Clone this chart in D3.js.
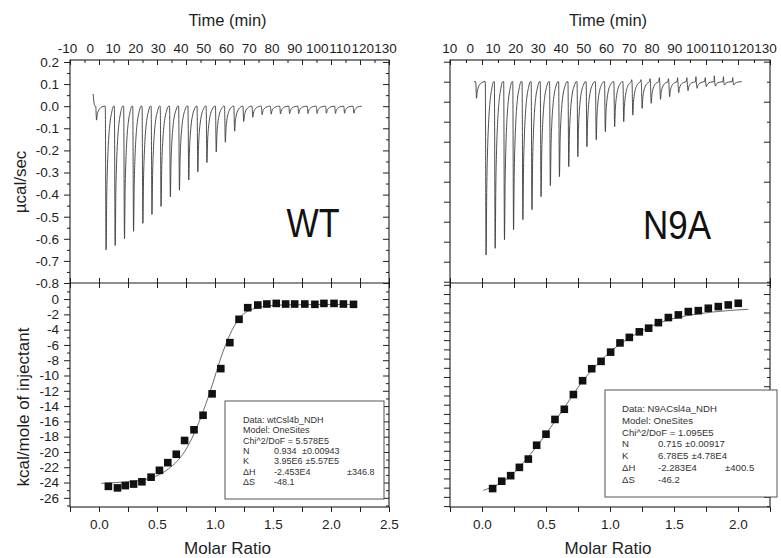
<!DOCTYPE html>
<html>
<head>
<meta charset="utf-8">
<script src="https://cdn.jsdelivr.net/npm/d3@7"></script>
<style>
  body { margin: 0; background: #fff; }
  svg { display: block; font-family: "Liberation Sans", Arial, sans-serif; }
</style>
</head>
<body>
<div id="chart"></div>
<script>
// Tick labels
const timeTicks = [-10, 0, 10, 20, 30, 40, 50, 60, 70, 80, 90, 100, 110, 120, 130]
const powerTicks = [0.2, 0.1, 0, -0.1, -0.2, -0.3, -0.4, -0.5, -0.6, -0.7, -0.8]
const heatTicks = [0, -2, -4, -6, -8, -10, -12, -14, -16, -18, -20, -22, -24, -26]
const ratioTicksWT = [0, 0.5, 1, 1.5, 2, 2.5]
const ratioTicksN9A = [0, 0.5, 1, 1.5, 2]

// Raw heat: time of each injection peak (min) and its depth (µcal/sec)
const injectionTimes = [3.0, 7.2, 11.2, 15.3, 19.3, 23.4, 27.4, 31.4, 35.5, 39.5, 43.6, 47.6, 51.6, 55.7, 59.7,
  63.8, 67.8, 71.8, 75.9, 79.9, 84.0, 88.0, 92.0, 96.1, 100.1, 104.2, 108.2, 112.2, 116.3]
const wtPeaks = [-0.063, -0.65, -0.63, -0.60, -0.566, -0.53, -0.49, -0.454, -0.41, -0.38, -0.334, -0.297, -0.255,
  -0.207, -0.163, -0.113, -0.069, -0.05, -0.039, -0.036, -0.035, -0.034, -0.034, -0.033, -0.033, -0.032, -0.033, -0.032, -0.032]
const wtSpikes = [0, 0, 0, 0, 0, 0, 0, 0, 0, 0, 0, 0, 0, 0, 0, 0, 0, 0, 0, 0, 0, 0, 0, 0, 0, 0, 0, 0, 0]
const n9aPeaks = [-0.083, -0.867, -0.833, -0.79, -0.74, -0.69, -0.64, -0.575, -0.52, -0.475, -0.425, -0.375, -0.325,
  -0.29, -0.25, -0.225, -0.2, -0.167, -0.133, -0.108, -0.088, -0.075, -0.055, -0.045, -0.033, -0.025, -0.022, -0.017, -0.017]
const n9aSpikes = [0, 0, 0, 0, 0, 0, 0, 0, 0, 0, 0, 0, 0, 0, 0, 0, 0, 0.01, 0.01, 0.015, 0.02, 0.015, 0.02, 0.02,
  0.025, 0.02, 0.03, 0.025, 0.02]

// Integrated heats (kcal/mole of injectant)
const wtRatio = [0.081, 0.159, 0.226, 0.298, 0.37, 0.449, 0.521, 0.593, 0.666, 0.738, 0.819, 0.897, 0.975, 1.05,
  1.128, 1.207, 1.282, 1.369, 1.447, 1.528, 1.609, 1.687, 1.774, 1.861, 1.939, 2.026, 2.107, 2.194]
const wtHeat = [-24.5, -24.7, -24.4, -24.2, -23.9, -23.3, -22.4, -21.4, -20.3, -18.5, -17.1, -15.2, -12.4, -9.1,
  -5.7, -2.65, -1.13, -0.78, -0.65, -0.57, -0.65, -0.65, -0.65, -0.69, -0.57, -0.57, -0.65, -0.69]
const wtFitRatio = [0.02, 0.2, 0.4, 0.5, 0.6, 0.74, 0.82, 0.9, 0.975, 1.05, 1.13, 1.21, 1.28, 1.37, 1.45, 1.6, 1.8, 2.2]
const wtFitHeat = [-24.1, -23.95, -23.6, -23.1, -22.2, -19.9, -17.6, -14.6, -11.3, -7.7, -4.6, -2.5, -1.6, -1.13,
  -0.9, -0.76, -0.72, -0.7]

const n9aRatio = [0.083, 0.154, 0.224, 0.292, 0.362, 0.427, 0.5, 0.57, 0.643, 0.714, 0.786, 0.857, 0.93, 1.005,
  1.078, 1.151, 1.229, 1.302, 1.378, 1.456, 1.534, 1.612, 1.69, 1.768, 1.846, 1.924, 2.002]
const n9aHeat = [-21.1, -20.3, -19.7, -18.8, -17.9, -16.4, -15.2, -13.6, -12.5, -10.9, -9.4, -8.1, -7.3, -6.3,
  -5.3, -4.7, -4.1, -3.7, -3.1, -2.55, -2.26, -1.9, -1.8, -1.54, -1.36, -1.18, -1.0]
const n9aFitRatio = [0.01, 0.2, 0.4, 0.6, 0.8, 1.0, 1.2, 1.4, 1.6, 1.8, 2.08]
const n9aFitHeat = [-21.3, -20.0, -17.0, -13.2, -9.2, -6.3, -4.35, -3.05, -2.35, -1.95, -1.65]

// Fit results
const wtFitText = ["Data: wtCsl4b_NDH", "Model: OneSites", "Chi^2/DoF = 5.578E5"]
const wtParams = [["N", "0.934", "±0.00943"], ["K", "3.95E6", "±5.57E5"], ["\u0394H", "-2.453E4", "±346.8"], ["\u0394S", "-48.1", ""]]
const n9aFitText = ["Data: N9ACsl4a_NDH", "Model: OneSites", "Chi^2/DoF = 1.095E5"]
const n9aParams = [["N", "0.715", "±0.00917"], ["K", "6.78E5", "±4.78E4"], ["\u0394H", "-2.283E4", "±400.5"], ["\u0394S", "-46.2", ""]]

// Dimensions
const width = 781
const height = 558
const plotTop = 60
const plotMid = 283
const plotBottom = 507
const ink = "#1e1e1e"
const tickFont = 13.5

// Shape of one injection peak: [minutes from peak, fraction of depth]
const peakShape = [[-0.35, 0], [0, 1], [0.3, 0.62], [0.65, 0.4], [1.1, 0.24], [1.7, 0.12], [2.4, 0.05], [3.3, 0]]

const svg = d3.select("#chart").append("svg")
    .attr("width", width)
    .attr("height", height)

const panels = [
  {
    id: "wt", left: 70, right: 389, timeRange: [67, 385], labelClip: 0,
    ratioDomain: [-0.25, 2.5], ratioLabels: ratioTicksWT,
    powerDomain: [-0.8, 0.209], heatDomain: [-27.2, 2.1],
    powerMajor: powerTicks, powerMinor: d3.range(0.15, -0.8, -0.1),
    heatMajor: heatTicks, heatMinor: d3.range(1, -27.5, -2),
    showLabels: true,
    peaks: wtPeaks, spikes: wtSpikes, traceStart: [[1.5, 0.055], [2.2, 0.002]], traceEnd: 119.8,
    ratio: wtRatio, heat: wtHeat, fitRatio: wtFitRatio, fitHeat: wtFitHeat,
    name: "WT", nameX: 313, nameY: 237, nameLength: 53,
    box: {x: 225, y: 401, w: 159, h: 98, font: 9, first: 423, step: 10.3, tx: 243, vx: 274, ex: [302, 300, 347]},
    fitText: wtFitText, params: wtParams
  },
  {
    id: "n9a", left: 450, right: 770, timeRange: [447, 765], labelClip: 443,
    ratioDomain: [-0.25, 2.25], ratioLabels: ratioTicksN9A,
    powerDomain: [-1.0065, 0.1085], heatDomain: [-23.1, 1.2],
    powerMajor: d3.range(0.1, -1.05, -0.2), powerMinor: d3.range(0, -1.05, -0.2),
    heatMajor: d3.range(0, -23.5, -2), heatMinor: d3.range(1, -23.5, -2),
    showLabels: false,
    peaks: n9aPeaks, spikes: n9aSpikes, traceStart: [[1.9, 0]], traceEnd: 119.8,
    ratio: n9aRatio, heat: n9aHeat, fitRatio: n9aFitRatio, fitHeat: n9aFitHeat,
    name: "N9A", nameX: 677, nameY: 239, nameLength: 68,
    box: {x: 605, y: 390, w: 172, h: 107, font: 9.6, first: 412, step: 11.8, tx: 622, vx: 658, ex: [683, 681, 725]},
    fitText: n9aFitText, params: n9aParams
  }
]

function addAxis(axis, x, y, labelled) {
  const g = svg.append("g")
      .attr("transform", `translate(${x},${y})`)
      .call(axis)
  // d3 sets its own font on the group, so override after the call
  g.attr("font-family", "Liberation Sans, Arial, sans-serif")
      .attr("font-size", tickFont)
  g.select(".domain").remove()
  g.selectAll(".tick line").attr("stroke", ink)
  g.selectAll(".tick text").attr("fill", ink)
  if (!labelled) g.selectAll(".tick text").remove()
  return g
}

const fmt1 = d => d.toFixed(1)

panels.forEach(function(p) {
  const ratioScale = d3.scaleLinear().domain(p.ratioDomain).range([p.left, p.right])
  const timeScale = d3.scaleLinear().domain([-10, 130]).range(p.timeRange)
  const powerScale = d3.scaleLinear().domain(p.powerDomain).range([plotMid, plotTop])
  const heatScale = d3.scaleLinear().domain(p.heatDomain).range([plotBottom, plotMid])
  const ratioMajor = d3.range(0, p.ratioDomain[1] + 0.01, 0.25).concat([-0.25])
  const ratioFine = d3.range(-0.125, p.ratioDomain[1], 0.25)

  // Clip for the raw heat trace
  svg.append("clipPath").attr("id", "clip-" + p.id)
    .append("rect").attr("x", p.left).attr("y", plotTop).attr("width", p.right - p.left).attr("height", plotMid - plotTop)

  // Raw heat trace
  let trace = p.traceStart.slice()
  injectionTimes.forEach(function(t, i) {
    if (p.spikes[i] > 0) trace.push([t - 0.5, p.spikes[i]])
    peakShape.forEach(function(s) { trace.push([t + s[0], p.peaks[i] * s[1]]) })
  })
  trace.push([p.traceEnd, 0])

  svg.append("path")
      .datum(trace)
      .attr("clip-path", `url(#clip-${p.id})`)
      .attr("fill", "none")
      .attr("stroke", "#3a3a3a")
      .attr("stroke-width", 0.9)
      .attr("d", d3.line()
        .x(d => timeScale(d[0]))
        .y(d => powerScale(d[1]))
        .curve(d3.curveMonotoneX))

  // Fit curve
  svg.append("path")
      .datum(p.fitRatio.map((r, i) => [r, p.fitHeat[i]]))
      .attr("fill", "none")
      .attr("stroke", "#6a6a6a")
      .attr("stroke-width", 1)
      .attr("d", d3.line()
        .x(d => ratioScale(d[0]))
        .y(d => heatScale(d[1]))
        .curve(d3.curveMonotoneX))

  // Integrated heats
  svg.selectAll(".pt-" + p.id)
      .data(p.ratio)
      .enter().append("rect")
      .attr("x", d => ratioScale(d) - 3.8)
      .attr("y", (d, i) => heatScale(p.heat[i]) - 3.8)
      .attr("width", 7.6)
      .attr("height", 7.6)
      .attr("fill", "#111")

  // Frames
  svg.append("rect")
      .attr("x", p.left).attr("y", plotTop)
      .attr("width", p.right - p.left).attr("height", plotBottom - plotTop)
      .attr("fill", "none").attr("stroke", ink).attr("stroke-width", 1.1)
  svg.append("line")
      .attr("x1", p.left).attr("x2", p.right).attr("y1", plotMid).attr("y2", plotMid)
      .attr("stroke", ink).attr("stroke-width", 1.1)

  // Top edge: fine ratio ticks, time labels above
  addAxis(d3.axisBottom(ratioScale).tickValues(ratioMajor).tickSize(5), 0, plotTop, false)
  addAxis(d3.axisBottom(ratioScale).tickValues(ratioFine).tickSize(3), 0, plotTop, false)
  const timeAxis = addAxis(d3.axisTop(timeScale).tickValues(timeTicks).tickSize(0).tickPadding(7).tickFormat(d => String(d)), 0, plotTop, true)
  if (p.labelClip) {
    // clip rect is in the axis group's own coordinates
    svg.append("clipPath").attr("id", "tclip-" + p.id)
      .append("rect").attr("x", p.labelClip).attr("y", -plotTop).attr("width", width).attr("height", plotTop)
    timeAxis.attr("clip-path", `url(#tclip-${p.id})`)
  }

  // Panel division and bottom edge ratio ticks
  addAxis(d3.axisTop(ratioScale).tickValues(ratioMajor).tickSize(5), 0, plotMid, false)
  addAxis(d3.axisBottom(ratioScale).tickValues(ratioMajor).tickSize(5), 0, plotMid, false)
  addAxis(d3.axisBottom(ratioScale).tickValues(ratioMajor).tickSize(5).tickPadding(7)
    .tickFormat(d => p.ratioLabels.includes(d) ? fmt1(d) : ""), 0, plotBottom, true)

  // Left side ticks (outward) and right side ticks (inward)
  addAxis(d3.axisLeft(powerScale).tickValues(p.powerMajor).tickSize(6).tickPadding(5).tickFormat(fmt1), p.left, 0, p.showLabels)
  addAxis(d3.axisLeft(powerScale).tickValues(p.powerMinor).tickSize(p.showLabels ? 3 : 6), p.left, 0, false)
  addAxis(d3.axisLeft(heatScale).tickValues(p.heatMajor).tickSize(6).tickPadding(5).tickFormat(d => String(d)), p.left, 0, p.showLabels)
  addAxis(d3.axisLeft(heatScale).tickValues(p.heatMinor).tickSize(p.showLabels ? 3 : 6), p.left, 0, false)
  addAxis(d3.axisLeft(powerScale).tickValues(p.powerMajor).tickSize(6), p.right, 0, false)
  addAxis(d3.axisLeft(powerScale).tickValues(p.powerMinor).tickSize(3), p.right, 0, false)
  addAxis(d3.axisLeft(heatScale).tickValues(p.heatMajor).tickSize(6), p.right, 0, false)
  addAxis(d3.axisLeft(heatScale).tickValues(p.heatMinor).tickSize(3), p.right, 0, false)

  // Axis titles
  const cx = (p.left + p.right) / 2 - 2
  svg.append("text")
      .attr("x", cx).attr("y", 26)
      .attr("text-anchor", "middle").attr("font-size", 16.5).attr("fill", ink)
      .text("Time (min)")
  svg.append("text")
      .attr("x", cx).attr("y", 554)
      .attr("text-anchor", "middle").attr("font-size", 17).attr("fill", ink)
      .text("Molar Ratio")

  // Sample name
  svg.append("text")
      .attr("x", p.nameX).attr("y", p.nameY)
      .attr("text-anchor", "middle").attr("font-size", 40).attr("fill", "#111")
      .attr("textLength", p.nameLength).attr("lengthAdjust", "spacingAndGlyphs")
      .text(p.name)

  // Fit results box
  const b = p.box
  svg.append("rect")
      .attr("x", b.x).attr("y", b.y).attr("width", b.w).attr("height", b.h)
      .attr("fill", "#fff").attr("stroke", "#555").attr("stroke-width", 1)
  const boxText = svg.append("g").attr("font-size", b.font).attr("fill", "#333")
  p.fitText.forEach(function(line, i) {
    boxText.append("text").attr("x", b.tx).attr("y", b.first + i * b.step).text(line)
  })
  p.params.forEach(function(row, i) {
    const y = b.first + (i + 3) * b.step
    boxText.append("text").attr("x", b.tx).attr("y", y).text(row[0])
    const value = boxText.append("text").attr("x", b.vx).attr("y", y).text(row[1])
    if (row[2]) {
      const valueEnd = b.vx + value.node().getComputedTextLength()
      boxText.append("text").attr("x", Math.max(b.ex[i], valueEnd + 3)).attr("y", y).text(row[2])
    }
  })
})

// Y axis titles (left panel only)
svg.append("text")
    .attr("transform", "translate(26,182) rotate(-90)")
    .attr("text-anchor", "middle").attr("font-size", 17).attr("fill", ink)
    .text("µcal/sec")
svg.append("text")
    .attr("transform", "translate(29,407) rotate(-90)")
    .attr("text-anchor", "middle").attr("font-size", 17).attr("fill", ink)
    .text("kcal/mole of injectant")
</script>
</body>
</html>
